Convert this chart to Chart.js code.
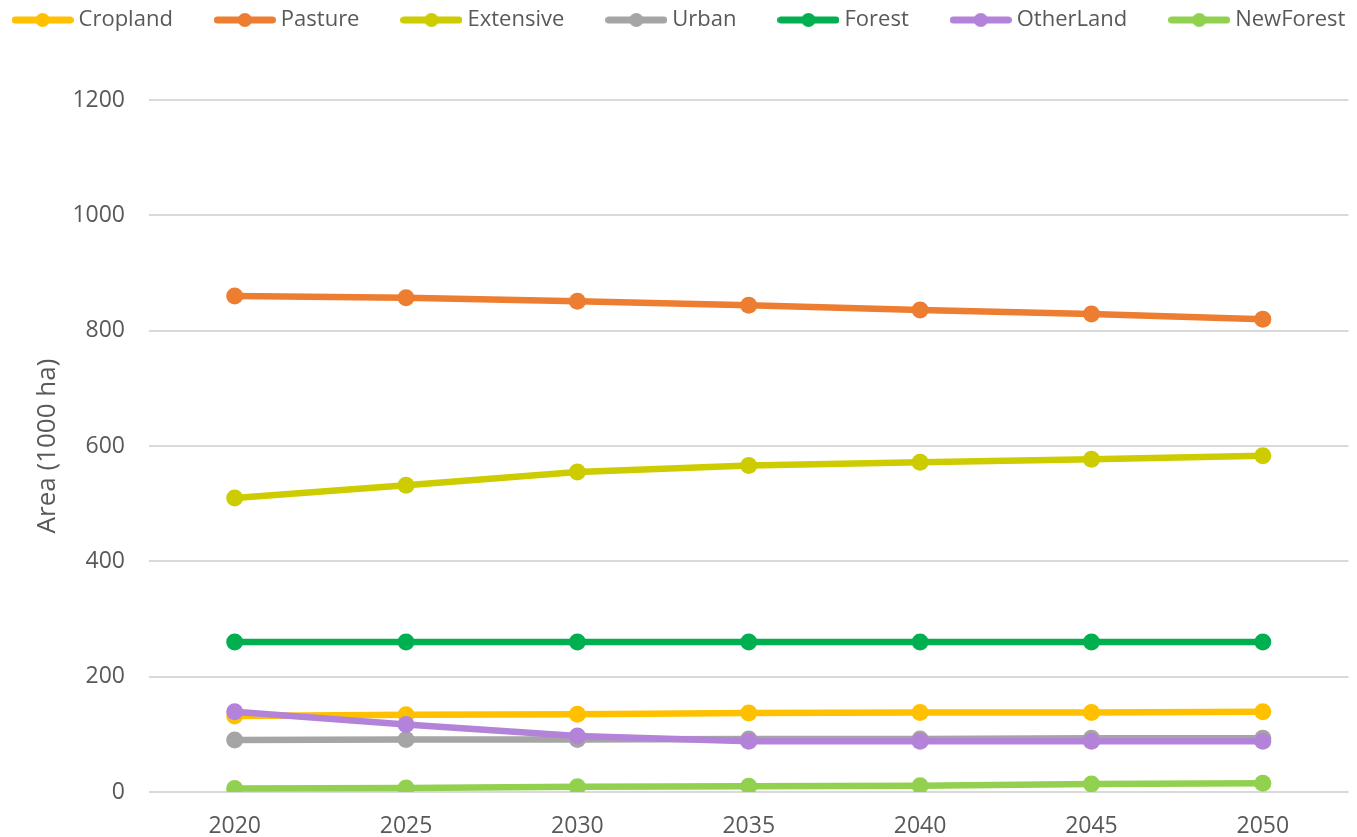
<!DOCTYPE html>
<html>
<head>
<meta charset="utf-8">
<script src="https://cdn.jsdelivr.net/npm/chart.js@4/dist/chart.umd.min.js"></script>
<style>
  html, body { margin: 0; padding: 0; background: #fff; }
  #wrap { width: 1357px; height: 837px; }
</style>
</head>
<body>
<div id="wrap"><canvas id="landChart" width="1357" height="837"></canvas></div>
<script>
const years = ['2020', '2025', '2030', '2035', '2040', '2045', '2050'];
const seriesNames = ['Cropland', 'Pasture', 'Extensive', 'Urban', 'Forest', 'OtherLand', 'NewForest'];
const cropland = [132, 134, 135, 137, 138, 138, 139];
const pasture = [860, 857, 851, 844, 836, 829, 820];
const extensive = [510, 532, 555, 566, 572, 577, 583];
const urban = [90, 91, 91, 92, 92, 93, 93];
const forest = [260, 260, 260, 260, 260, 260, 260];
const otherLand = [139, 117, 97, 88, 88, 88, 88];
const newForest = [6, 7, 9, 10, 11, 14, 15];
const seriesColors = ['#FFC000', '#ED7D31', '#CCCC00', '#A5A5A5', '#00B050', '#B383D9', '#92D050'];

const FONT = '"Open Sans", "Noto Sans", sans-serif';
const TEXT = '#595959';

// legend marker: short thick line with a dot in the middle
function legendMarker(color) {
    const c = document.createElement('canvas');
    c.width = 62;
    c.height = 16;
    const g = c.getContext('2d');
    g.strokeStyle = color;
    g.lineWidth = 7;
    g.lineCap = 'round';
    g.beginPath();
    g.moveTo(3.5, 8);
    g.lineTo(58.5, 8);
    g.stroke();
    g.fillStyle = color;
    g.beginPath();
    g.arc(31, 8, 7, 0, Math.PI * 2);
    g.fill();
    return c;
}

const allSeries = [cropland, pasture, extensive, urban, forest, otherLand, newForest];
const markers = seriesColors.map(legendMarker);

const datasets = allSeries.map((values, i) => ({
    label: seriesNames[i],
    data: values,
    borderColor: seriesColors[i],
    backgroundColor: seriesColors[i],
    borderWidth: 6.5,
    pointRadius: 8.5,
    pointHoverRadius: 8.5,
    pointBorderWidth: 0,
    tension: 0,
    order: -i   // later series drawn on top, like the original
}));

// keep the legend on one row and leave room down to the plot
const legendFit = {
    id: 'legendFit',
    beforeInit(chart) {
        const legend = chart.legend;
        const fit = legend.fit;
        legend.fit = function () {
            const mw = this.maxWidth;
            this.maxWidth = 2000;
            fit.call(this);
            this.maxWidth = mw;
            this.width = Math.min(this.width, mw);
            this.height = 138;
        };
        const draw = legend.draw;
        legend.draw = function () {
            this.left -= 90;
            this.right += 100;
            draw.call(this);
            this.left += 90;
            this.right -= 100;
        };
    }
};

const ctx = document.getElementById('landChart').getContext('2d');
new Chart(ctx, {
    type: 'line',
    data: { labels: years, datasets: datasets },
    plugins: [legendFit],
    options: {
        responsive: false,
        animation: false,
        devicePixelRatio: 1,
        layout: { padding: { top: -38, right: 4, left: 0, bottom: 0 } },
        plugins: {
            tooltip: { enabled: false },
            legend: {
                position: 'top',
                align: 'center',
                labels: {
                    usePointStyle: true,
                    pointStyleWidth: 50,
                    padding: 47,
                    color: TEXT,
                    font: { family: FONT, size: 22 },
                    generateLabels(chart) {
                        return chart.data.datasets.map((ds, i) => ({
                            text: ds.label,
                            fillStyle: ds.borderColor,
                            strokeStyle: ds.borderColor,
                            lineWidth: 0,
                            pointStyle: markers[i],
                            fontColor: TEXT,
                            hidden: false,
                            datasetIndex: i
                        }));
                    }
                }
            }
        },
        scales: {
            x: {
                offset: true,
                grid: { display: false, drawTicks: false },
                border: { display: false },
                ticks: { color: TEXT, font: { family: FONT, size: 23 }, padding: 21 },
                afterFit(scale) { scale.height = 45; }
            },
            y: {
                min: 0,
                max: 1200,
                ticks: {
                    stepSize: 200,
                    color: TEXT,
                    font: { family: FONT, size: 23 },
                    padding: 24,
                    callback: (v) => String(v)
                },
                grid: { color: '#D9D9D9', lineWidth: 2, drawTicks: false },
                border: { display: false },
                title: {
                    display: true,
                    text: 'Area (1000 ha)',
                    color: TEXT,
                    font: { family: FONT, size: 26 },
                    padding: { top: 32, bottom: 0 }
                },
                afterFit(scale) { scale.width = 149; }
            }
        }
    }
});
</script>
</body>
</html>
